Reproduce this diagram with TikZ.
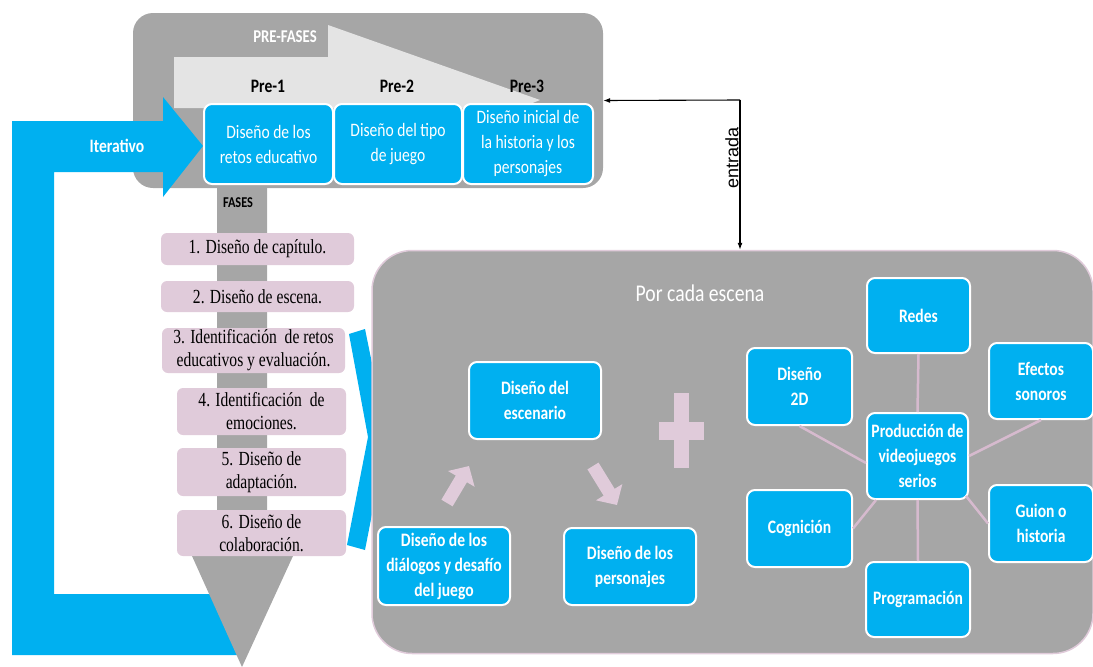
\documentclass[tikz,border=0pt]{standalone}
\usepackage{fontspec}
\setmainfont[FakeStretch=0.82]{Carlito}
\newfontfamily\romana[FakeStretch=0.78]{Liberation Serif}
\newfontfamily\letraflecha{Liberation Sans}
\usepackage{xcolor}
\usetikzlibrary{arrows.meta}

\definecolor{azul}{RGB}{0,176,240}
\definecolor{gris}{RGB}{166,166,166}
\definecolor{grisclaro}{RGB}{228,228,228}
\definecolor{rosa}{RGB}{224,203,218}
\definecolor{lila}{RGB}{214,186,206}

\tikzset{
  caja/.style={rectangle, rounded corners=8pt, fill=azul, draw=white, line width=2pt, text=white, align=center, inner sep=1pt, font=\fontsize{19}{25}\selectfont},
  cajab/.style={caja, font=\bfseries\fontsize{19}{25}\selectfont},
  fase/.style={rectangle, rounded corners=6pt, fill=rosa, align=center, inner sep=1pt, font=\romana\fontsize{20}{23}\selectfont},
  enlace/.style={lila, line width=2.5pt},
  bloque/.style={rosa, line width=13pt, -{Triangle[length=15pt,width=30pt]}},
}

\begin{document}
\begin{tikzpicture}[x=1pt,y=-1pt]
\useasboundingbox (0,0) rectangle (1093,667);

% pre-fases
\node[rectangle, rounded corners=20pt, fill=gris, minimum width=470pt, minimum height=175pt] (prefases) at (368,100.5) {};
\fill[grisclaro] (174,57) -- (328,57) -- (328,25) -- (540,100) -- (520,108) -- (174,108) -- cycle;
\node[text=white, font=\bfseries\fontsize{18}{18}\selectfont] (tpre) at (285,37) {PRE-FASES};

% iterativo
\fill[azul] (12,121) -- (163,121) -- (163,97) -- (203,146) -- (163,197) -- (163,172) -- (54,172) -- (54,594) -- (240,594) -- (240,655) -- (12,655) -- cycle;
\node[text=white, font=\bfseries\fontsize{19}{19}\selectfont] (iter) at (117,146) {Iterativo};

\node[caja, minimum width=129pt, minimum height=80pt] (pre1) at (268.5,144) {Diseño de los\\retos educativo};
\node[caja, minimum width=128pt, minimum height=80pt] (pre2) at (398,144) {Diseño del tipo\\de juego};
\node[caja, minimum width=130pt, minimum height=80pt] (pre3) at (528,144) {Diseño inicial de\\la historia y los\\personajes};
\node[font=\bfseries\fontsize{19}{19}\selectfont] (lpre1) at (268,86) {Pre-1};
\node[font=\bfseries\fontsize{19}{19}\selectfont] (lpre2) at (397,86) {Pre-2};
\node[font=\bfseries\fontsize{19}{19}\selectfont] (lpre3) at (527,86) {Pre-3};

% fases
\fill[gris] (217,187) -- (267,187) -- (267,556) -- (293,556) -- (242,667) -- (192,556) -- (217,556) -- cycle;
\node[font=\bfseries\fontsize{15}{15}\selectfont] (tfases) at (238,203) {FASES};

\node[fase, minimum width=193pt, minimum height=32pt] (f1) at (257.5,249) {1. Diseño de capítulo.};
\node[fase, minimum width=193pt, minimum height=31pt] (f2) at (257.5,296.5) {2. Diseño de escena.};
\node[fase, minimum width=183pt, minimum height=45pt] (f3) at (253.5,350.5) {3. Identificación \ de retos\\educativos y evaluación.};
\node[fase, minimum width=169pt, minimum height=47pt] (f4) at (261.5,411.5) {4. Identificación \ de\\emociones.};
\node[fase, minimum width=169pt, minimum height=48pt] (f5) at (261.5,472) {5. Diseño de\\adaptación.};
\node[fase, minimum width=169pt, minimum height=46pt] (f6) at (261.5,533) {6. Diseño de\\colaboración.};

\fill[azul] (349,334) -- (365,329) -- (387,437) -- (365,550) -- (347,545) -- (368,437) -- cycle;

% por cada escena
\node[rectangle, rounded corners=40pt, fill=gris, draw=rosa, line width=1.5pt, minimum width=721pt, minimum height=403pt] (escena) at (732.5,452) {};
\node[text=white, font=\fontsize{24}{24}\selectfont] (tesc) at (700,293) {Por cada escena};

\node[cajab, minimum width=132pt, minimum height=77pt] (escenario) at (535,400.5) {Diseño del\\escenario};
\node[cajab, minimum width=132pt, minimum height=78pt] (dialogos) at (444,566) {Diseño de los\\diálogos y desafío\\del juego};
\node[cajab, minimum width=132pt, minimum height=77pt] (personajes) at (630,566.5) {Diseño de los\\personajes};
\draw[bloque] (447,503) -- (469,466);
\draw[bloque] (593,466) -- (617,505);
\fill[rosa] (674,393) rectangle (689,468);
\fill[rosa] (659,422) rectangle (704,440);

\node[cajab, minimum width=101pt, minimum height=86pt] (prod) at (917.5,456) {Producción de\\videojuegos\\serios};
\node[cajab, minimum width=103pt, minimum height=75pt] (redes) at (918.5,315.5) {Redes};
\node[cajab, minimum width=105pt, minimum height=77pt] (d2) at (799.5,386.5) {Diseño\\2D};
\node[cajab, minimum width=104pt, minimum height=76pt] (efectos) at (1041,381) {Efectos\\sonoros};
\node[cajab, minimum width=105pt, minimum height=77pt] (cog) at (799.5,528.5) {Cognición};
\node[cajab, minimum width=104pt, minimum height=77pt] (guion) at (1041,523.5) {Guion o\\historia};
\node[cajab, minimum width=104pt, minimum height=75pt] (prog) at (918,599.5) {Programación};

\draw[enlace] (redes.south) -- (prod.north);
\draw[enlace] (d2.south) -- ([yshift=-7pt]prod.west);
\draw[enlace] (efectos.south) -- (prod.east);
\draw[enlace] (cog.east) -- ([xshift=10pt]prod.south west);
\draw[enlace] (guion.west) -- ([xshift=-3pt,yshift=4pt]prod.south east);
\draw[enlace] (prog.north) -- (prod.south);

% entrada
\coordinate (esquina) at (740,100);
\draw[-{Latex[length=7pt,width=5pt]}, line width=1.1pt] (esquina) -- (prefases.east);
\draw[-{Latex[length=7pt,width=5pt]}, line width=1.1pt] (esquina) -- node[pos=0.39, rotate=90, anchor=south, inner sep=1pt, font=\letraflecha\fontsize{18}{18}\selectfont] (tentrada) {entrada} (esquina |- escena.north);
\end{tikzpicture}
\end{document}
